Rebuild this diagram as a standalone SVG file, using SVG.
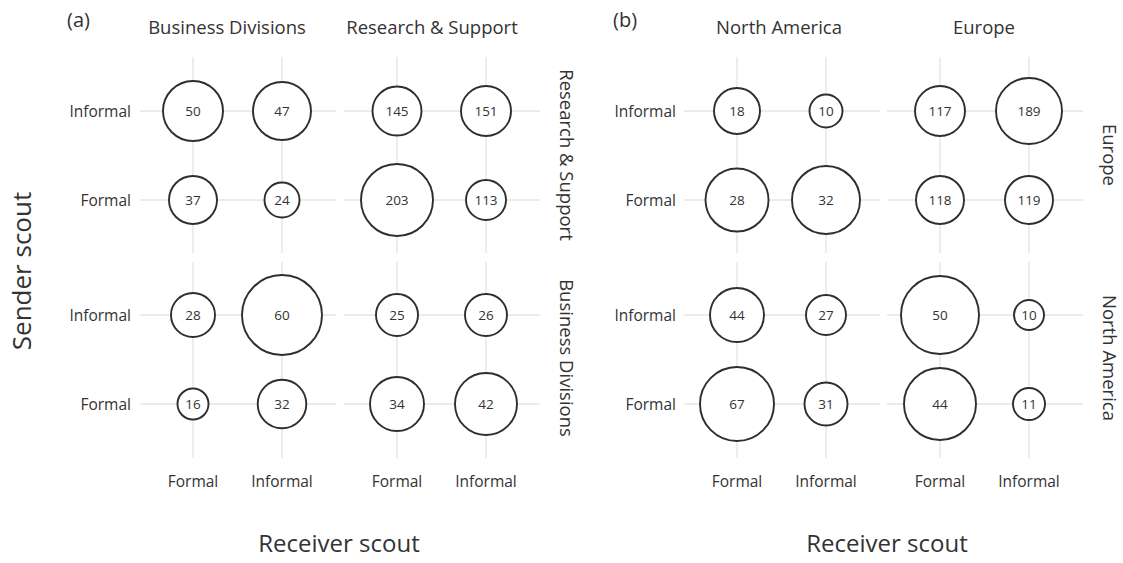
<svg xmlns="http://www.w3.org/2000/svg" width="1123" height="563" viewBox="0 0 1123 563">
<style>
text{font-family:"Open Sans","Noto Sans",sans-serif;fill:#333}
.g line{stroke:#ebebeb;stroke-width:1.8}
.b circle{fill:#fff;stroke:#2e2e2e;stroke-width:1.9}
.b text{font-size:13.5px;text-anchor:middle;dominant-baseline:central}
.tk{font-size:15.5px}
.ty{text-anchor:end;dominant-baseline:central}
.tx{text-anchor:middle}
.st{font-size:18.5px;text-anchor:middle}
.ax{font-size:24px;text-anchor:middle}
.pl{font-size:20px}
</style>
<rect width="1123" height="563" fill="#fff"/>
<g id="grid" class="g">
<line x1="140" y1="111" x2="336" y2="111"/><line x1="140" y1="200" x2="336" y2="200"/>
<line x1="344" y1="111" x2="540" y2="111"/><line x1="344" y1="200" x2="540" y2="200"/>
<line x1="140" y1="315" x2="336" y2="315"/><line x1="140" y1="404" x2="336" y2="404"/>
<line x1="344" y1="315" x2="540" y2="315"/><line x1="344" y1="404" x2="540" y2="404"/>
<line x1="193" y1="57" x2="193" y2="253"/><line x1="282" y1="57" x2="282" y2="253"/>
<line x1="397" y1="57" x2="397" y2="253"/><line x1="486" y1="57" x2="486" y2="253"/>
<line x1="193" y1="262" x2="193" y2="458"/><line x1="282" y1="262" x2="282" y2="458"/>
<line x1="397" y1="262" x2="397" y2="458"/><line x1="486" y1="262" x2="486" y2="458"/>
<line x1="684" y1="111" x2="880" y2="111"/><line x1="684" y1="200" x2="880" y2="200"/>
<line x1="887" y1="111" x2="1083" y2="111"/><line x1="887" y1="200" x2="1083" y2="200"/>
<line x1="684" y1="315" x2="880" y2="315"/><line x1="684" y1="404" x2="880" y2="404"/>
<line x1="887" y1="315" x2="1083" y2="315"/><line x1="887" y1="404" x2="1083" y2="404"/>
<line x1="737" y1="57" x2="737" y2="253"/><line x1="826" y1="57" x2="826" y2="253"/>
<line x1="940" y1="57" x2="940" y2="253"/><line x1="1029" y1="57" x2="1029" y2="253"/>
<line x1="737" y1="262" x2="737" y2="458"/><line x1="826" y1="262" x2="826" y2="458"/>
<line x1="940" y1="262" x2="940" y2="458"/><line x1="1029" y1="262" x2="1029" y2="458"/>
</g>
<g id="connectors"></g>
<g id="a-rs-bd-if" class="b"><circle cx="193" cy="111" r="30"/><text x="193" y="111">50</text></g>
<g id="a-rs-bd-ii" class="b"><circle cx="282" cy="111" r="29"/><text x="282" y="111">47</text></g>
<g id="a-rs-bd-ff" class="b"><circle cx="193" cy="200" r="24"/><text x="193" y="200">37</text></g>
<g id="a-rs-bd-fi" class="b"><circle cx="282" cy="200" r="17.5"/><text x="282" y="200">24</text></g>
<g id="a-rs-rs-if" class="b"><circle cx="397" cy="111" r="24.5"/><text x="397" y="111">145</text></g>
<g id="a-rs-rs-ii" class="b"><circle cx="486" cy="111" r="25"/><text x="486" y="111">151</text></g>
<g id="a-rs-rs-ff" class="b"><circle cx="397" cy="200" r="36"/><text x="397" y="200">203</text></g>
<g id="a-rs-rs-fi" class="b"><circle cx="486" cy="200" r="20"/><text x="486" y="200">113</text></g>
<g id="a-bd-bd-if" class="b"><circle cx="193" cy="315" r="22"/><text x="193" y="315">28</text></g>
<g id="a-bd-bd-ii" class="b"><circle cx="282" cy="315" r="40"/><text x="282" y="315">60</text></g>
<g id="a-bd-bd-ff" class="b"><circle cx="193" cy="404" r="15.5"/><text x="193" y="404">16</text></g>
<g id="a-bd-bd-fi" class="b"><circle cx="282" cy="404" r="24.3"/><text x="282" y="404">32</text></g>
<g id="a-bd-rs-if" class="b"><circle cx="397" cy="315" r="21"/><text x="397" y="315">25</text></g>
<g id="a-bd-rs-ii" class="b"><circle cx="486" cy="315" r="21"/><text x="486" y="315">26</text></g>
<g id="a-bd-rs-ff" class="b"><circle cx="397" cy="404" r="27"/><text x="397" y="404">34</text></g>
<g id="a-bd-rs-fi" class="b"><circle cx="486" cy="404" r="31"/><text x="486" y="404">42</text></g>
<g id="b-eu-na-if" class="b"><circle cx="737" cy="111" r="23"/><text x="737" y="111">18</text></g>
<g id="b-eu-na-ii" class="b"><circle cx="826" cy="111" r="16.5"/><text x="826" y="111">10</text></g>
<g id="b-eu-na-ff" class="b"><circle cx="737" cy="200" r="31.5"/><text x="737" y="200">28</text></g>
<g id="b-eu-na-fi" class="b"><circle cx="826" cy="200" r="34"/><text x="826" y="200">32</text></g>
<g id="b-eu-eu-if" class="b"><circle cx="940" cy="111" r="25"/><text x="940" y="111">117</text></g>
<g id="b-eu-eu-ii" class="b"><circle cx="1029" cy="111" r="33"/><text x="1029" y="111">189</text></g>
<g id="b-eu-eu-ff" class="b"><circle cx="940" cy="200" r="24"/><text x="940" y="200">118</text></g>
<g id="b-eu-eu-fi" class="b"><circle cx="1029" cy="200" r="24"/><text x="1029" y="200">119</text></g>
<g id="b-na-na-if" class="b"><circle cx="737" cy="315" r="27"/><text x="737" y="315">44</text></g>
<g id="b-na-na-ii" class="b"><circle cx="826" cy="315" r="20"/><text x="826" y="315">27</text></g>
<g id="b-na-na-ff" class="b"><circle cx="737" cy="404" r="37"/><text x="737" y="404">67</text></g>
<g id="b-na-na-fi" class="b"><circle cx="826" cy="404" r="21.5"/><text x="826" y="404">31</text></g>
<g id="b-na-eu-if" class="b"><circle cx="940" cy="315" r="39"/><text x="940" y="315">50</text></g>
<g id="b-na-eu-ii" class="b"><circle cx="1029" cy="315" r="15"/><text x="1029" y="315">10</text></g>
<g id="b-na-eu-ff" class="b"><circle cx="940" cy="404" r="36"/><text x="940" y="404">44</text></g>
<g id="b-na-eu-fi" class="b"><circle cx="1029" cy="404" r="16"/><text x="1029" y="404">11</text></g>
<g id="labels-a">
<text class="pl" x="67" y="27">(a)</text>
<text class="st" x="227" y="34">Business Divisions</text>
<text class="st" x="432" y="34">Research &amp; Support</text>
<text class="st" transform="translate(560,155) rotate(90)">Research &amp; Support</text>
<text class="st" transform="translate(560,358) rotate(90)">Business Divisions</text>
<text class="tk ty" x="131" y="111">Informal</text>
<text class="tk ty" x="131" y="200">Formal</text>
<text class="tk ty" x="131" y="315">Informal</text>
<text class="tk ty" x="131" y="404">Formal</text>
<text class="tk tx" x="193" y="487">Formal</text>
<text class="tk tx" x="282" y="487">Informal</text>
<text class="tk tx" x="397" y="487">Formal</text>
<text class="tk tx" x="486" y="487">Informal</text>
<text class="ax" x="339" y="552">Receiver scout</text>
<text class="ax" style="font-size:26px" transform="translate(31,271) rotate(-90)">Sender scout</text>
</g>
<g id="labels-b">
<text class="pl" x="613" y="27">(b)</text>
<text class="st" x="779" y="34">North America</text>
<text class="st" x="984" y="34">Europe</text>
<text class="st" transform="translate(1103,155) rotate(90)">Europe</text>
<text class="st" transform="translate(1103,358) rotate(90)">North America</text>
<text class="tk ty" x="676" y="111">Informal</text>
<text class="tk ty" x="676" y="200">Formal</text>
<text class="tk ty" x="676" y="315">Informal</text>
<text class="tk ty" x="676" y="404">Formal</text>
<text class="tk tx" x="737" y="487">Formal</text>
<text class="tk tx" x="826" y="487">Informal</text>
<text class="tk tx" x="940" y="487">Formal</text>
<text class="tk tx" x="1029" y="487">Informal</text>
<text class="ax" x="887" y="552">Receiver scout</text>
</g>
</svg>
